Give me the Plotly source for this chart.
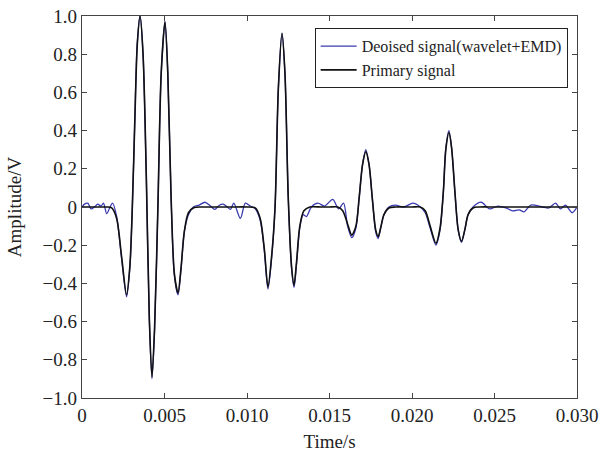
import plotly.graph_objects as go

# Primary signal knots (time in ms, amplitude V)
prim_t = [0, 0.5, 1.0, 1.5, 1.8, 2.1, 2.4, 2.7, 2.9, 3.05, 3.2, 3.35, 3.52, 3.7, 3.9, 4.08, 4.24, 4.4, 4.6, 4.8, 5.03, 5.2, 5.4, 5.6, 5.82, 6.0, 6.2, 6.45, 6.8, 7.3,
          8.0, 9.0, 10.0, 10.5, 10.8, 11.05, 11.27, 11.5, 11.7, 11.9, 12.12, 12.3, 12.5, 12.7, 12.85, 13.0, 13.2, 13.45, 13.8, 14.5,
          15.0, 15.5, 15.8, 16.1, 16.35, 16.6, 16.8, 17.0, 17.2, 17.4, 17.6, 17.8, 17.95, 18.1, 18.3, 18.6, 19.0,
          20.0, 20.5, 20.8, 21.1, 21.45, 21.7, 21.9, 22.05, 22.24, 22.4, 22.6, 22.8, 23.0, 23.2, 23.4, 23.7, 24.1, 25.0, 27.0, 30.0]
prim_v = [0, 0, 0, 0, -0.005, -0.06, -0.26, -0.46, -0.31, 0.0, 0.45, 0.85, 1.0, 0.80, 0.15, -0.58, -0.89, -0.63, 0.0, 0.70, 0.97, 0.70, 0.05, -0.35, -0.45, -0.32, -0.13, -0.03, -0.003, 0,
          0, 0, 0, -0.005, -0.06, -0.22, -0.42, -0.25, 0.0, 0.62, 0.91, 0.70, 0.05, -0.31, -0.41, -0.29, -0.10, -0.02, 0, 0,
          0, 0, -0.02, -0.09, -0.147, -0.10, 0.05, 0.22, 0.29, 0.22, 0.04, -0.12, -0.155, -0.11, -0.04, -0.005, 0,
          0, 0, -0.02, -0.10, -0.19, -0.11, 0.08, 0.30, 0.39, 0.31, 0.08, -0.12, -0.18, -0.12, -0.04, -0.005, 0, 0, 0, 0]

# Denoised signal knots (time in ms, amplitude V)
den_t = [0, 0.15, 0.35, 0.55, 0.75, 0.95, 1.15, 1.3, 1.5, 1.7, 1.85, 2.1, 2.4, 2.7, 2.9, 3.05, 3.2, 3.35, 3.52, 3.7, 3.9, 4.08, 4.24, 4.4, 4.6, 4.8, 5.03, 5.2, 5.4, 5.6, 5.82, 6.0, 6.2, 6.45, 6.75,
         7.1, 7.45, 7.75, 8.05, 8.3, 8.55, 8.8, 9.0, 9.2, 9.6, 9.9, 10.2, 10.5, 10.8, 11.05, 11.27, 11.5, 11.7, 11.9, 12.12, 12.3, 12.5, 12.7, 12.85, 13.0, 13.2, 13.4,
         13.6, 13.9, 14.3, 14.7, 15.2, 15.55, 15.85, 16.1, 16.35, 16.6, 16.8, 17.0, 17.2, 17.4, 17.6, 17.8, 17.95, 18.1, 18.3, 18.6, 19.0, 19.5, 20.06, 20.5, 20.8, 21.1, 21.45, 21.7, 21.9, 22.05, 22.24, 22.4, 22.6, 22.8, 23.0, 23.2, 23.4, 23.7,
         24.2, 24.7, 25.2, 25.7, 26.1, 26.5, 26.8, 27.2, 27.9, 28.3, 28.7, 29.0, 29.3, 29.7, 30.0]
den_v = [0, 0.015, 0.02, -0.01, 0.0, 0.015, 0.005, 0.02, -0.035, 0.0, 0.02, -0.05, -0.27, -0.47, -0.32, 0.0, 0.45, 0.86, 1.0, 0.80, 0.15, -0.59, -0.90, -0.64, 0.0, 0.70, 0.97, 0.70, 0.05, -0.36, -0.46, -0.33, -0.13, -0.04, 0.0,
         0.01, 0.025, 0.008, -0.012, 0.008, 0.015, 0.0, -0.012, 0.02, -0.06, 0.02, 0.005, -0.01, -0.07, -0.23, -0.43, -0.26, 0.0, 0.62, 0.91, 0.70, 0.05, -0.32, -0.42, -0.30, -0.11, -0.04,
         -0.05, 0.0, 0.02, 0.005, 0.04, -0.01, 0.02, -0.10, -0.16, -0.11, 0.05, 0.22, 0.30, 0.22, 0.04, -0.13, -0.165, -0.11, -0.04, 0.0, 0.01, 0.0, 0.02, 0.0, -0.03, -0.11, -0.20, -0.12, 0.08, 0.31, 0.40, 0.31, 0.08, -0.12, -0.185, -0.12, -0.04, 0.0,
         0.025, -0.01, 0.005, -0.005, -0.02, -0.015, -0.025, 0.01, 0.0, -0.005, 0.02, -0.01, 0.01, -0.03, 0.0]

x_ticks = [0, 0.005, 0.010, 0.015, 0.020, 0.025, 0.030]
x_labels = ["0", "0.005", "0.010", "0.015", "0.020", "0.025", "0.030"]
y_ticks = [1.0, 0.8, 0.6, 0.4, 0.2, 0, -0.2, -0.4, -0.6, -0.8, -1.0]
y_labels = ["1.0", "0.8", "0.6", "0.4", "0.2", "0", "\u22120.2", "\u22120.4", "\u22120.6", "\u22120.8", "\u22121.0"]

font_fam = "Liberation Serif, Times New Roman, serif"

fig = go.Figure()
fig.add_trace(go.Scatter(x=[t / 1000 for t in den_t], y=den_v, mode="lines",
                         name="Deoised signal(wavelet+EMD)",
                         line=dict(color="#3a3ab0", width=1.3, shape="spline", smoothing=0.8)))
fig.add_trace(go.Scatter(x=[t / 1000 for t in prim_t], y=prim_v, mode="lines",
                         name="Primary signal",
                         line=dict(color="#111111", width=1.6, shape="spline", smoothing=0.8)))

axis_common = dict(showline=True, linecolor="#444444", linewidth=1.3, mirror="ticks",
                   ticks="inside", ticklen=5, tickcolor="#444444", showgrid=False, zeroline=False,
                   automargin=False,
                   tickfont=dict(family=font_fam, size=19, color="#222222"))

fig.update_layout(
    width=605, height=452,
    margin=dict(l=82, r=28, t=16, b=54, autoexpand=False),
    paper_bgcolor="white", plot_bgcolor="white",
    showlegend=True,
    legend=dict(x=0.47, y=0.968, xanchor="left", yanchor="top",
                bordercolor="#222222", borderwidth=1, bgcolor="white",
                font=dict(family=font_fam, size=16, color="#222222"),
                tracegroupgap=0, itemwidth=36),
    xaxis=dict(range=[0, 0.030], tickvals=x_ticks, ticktext=x_labels,
               title=dict(text="Time/s", font=dict(family=font_fam, size=19, color="#222222")),
               **axis_common),
    yaxis=dict(range=[-1.0, 1.0], tickvals=y_ticks, ticktext=y_labels,
               title=dict(text="Amplitude/V", font=dict(family=font_fam, size=19, color="#222222")),
               **axis_common),
)

fig.write_html("out.html")
